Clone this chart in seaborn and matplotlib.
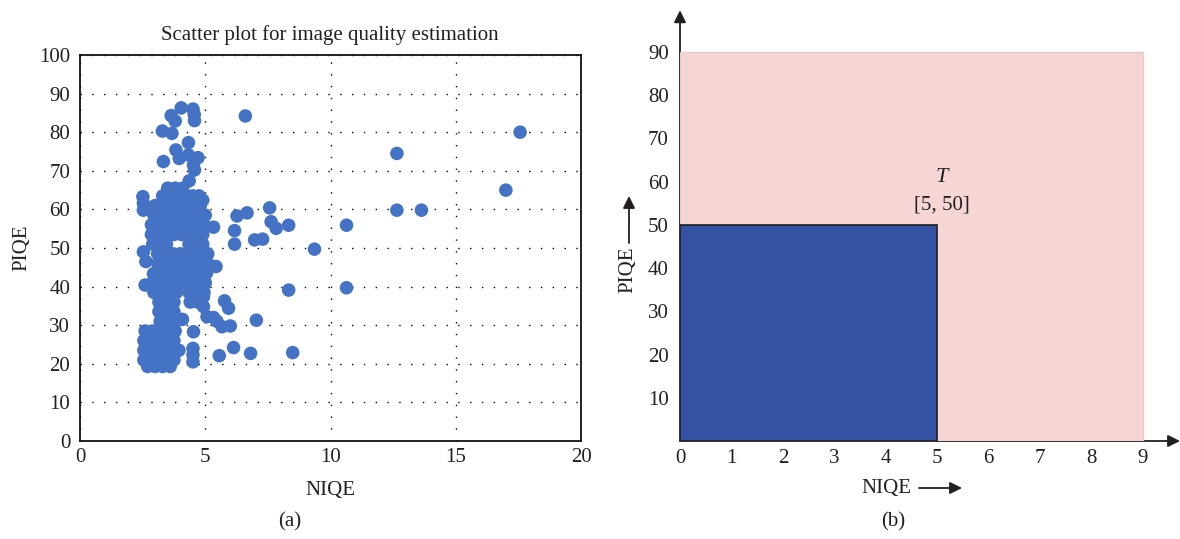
import matplotlib
matplotlib.use("Agg")
import matplotlib.pyplot as plt
import seaborn as sns
import pandas as pd

# ---------------- data: panel (a) ----------------
# isolated points (NIQE, PIQE)
outlier_niqe = [6.6, 17.57, 12.65, 17.0, 12.65, 13.63, 10.64, 8.33, 7.57, 6.67, 6.27, 7.63,
                7.83, 6.17, 6.17, 6.97, 7.29, 9.36, 5.43, 8.33, 10.64, 5.77, 5.93, 7.04,
                5.47, 5.67, 6.0, 6.13, 5.56, 6.81, 8.49, 5.33, 5.07, 5.33]
outlier_piqe = [84.2, 80.0, 74.5, 65.0, 59.8, 59.8, 55.9, 55.9, 60.4, 59.1, 58.3, 56.8,
                55.1, 54.5, 51.0, 52.1, 52.3, 49.7, 45.2, 39.1, 39.7, 36.3, 34.4, 31.3,
                31.0, 29.6, 29.8, 24.2, 22.1, 22.7, 22.9, 55.4, 32.2, 32.0]

# points on the edge of the dense cluster
edge_niqe = [4.04, 4.51, 4.56, 4.57, 3.64, 3.8, 3.29, 3.67, 4.33, 3.83, 3.33, 3.96, 4.33,
             4.71, 4.53, 4.57, 4.36, 2.51, 2.53, 2.53, 2.53, 2.63, 2.6, 2.93, 4.09, 4.53,
             4.51, 4.51, 4.51, 4.93, 4.93, 4.9]
edge_piqe = [86.3, 86.0, 84.6, 83.0, 84.3, 82.9, 80.3, 79.7, 77.3, 75.4, 72.4, 73.2, 74.1,
             73.4, 71.5, 70.2, 67.4, 63.3, 61.6, 59.8, 49.0, 46.5, 40.4, 43.3, 31.5, 28.3,
             24.0, 22.3, 20.5, 37.4, 34.8, 62.4]

# dense cluster, read row by row (PIQE of the row, NIQE of its points)
cluster_piqe_rows = [65.5, 63.5, 61, 58.5, 56, 53.5, 51, 48.5, 46, 43.5, 41, 38.5, 36,
                     33.5, 31, 28.5, 26, 23.5, 21, 19.3]
cluster_niqe_rows = [
    [3.5, 3.8, 4.1],
    [3.3, 3.6, 3.9, 4.2, 4.5, 4.75],
    [3.0, 3.3, 3.6, 3.9, 4.2, 4.5, 4.8],
    [2.95, 3.25, 3.55, 3.85, 4.15, 4.45, 4.75, 5.0],
    [2.85, 3.15, 3.45, 3.75, 4.05, 4.35, 4.65, 4.95],
    [2.85, 3.15, 3.45, 3.75, 4.05, 4.35, 4.65, 4.9],
    [2.9, 3.2, 3.45, 4.35, 4.65, 4.9],
    [3.1, 3.4, 3.7, 4.0, 4.3, 4.6, 4.9, 5.1],
    [3.1, 3.4, 3.7, 4.0, 4.3, 4.6, 4.9, 5.1],
    [3.0, 3.3, 3.6, 3.9, 4.2, 4.5, 4.8, 5.05],
    [2.9, 3.2, 3.5, 3.8, 4.1, 4.4, 4.7, 5.0],
    [2.95, 3.25, 3.55, 3.85, 4.35, 4.65, 4.95],
    [3.15, 3.45, 3.75, 4.4, 4.7],
    [3.15, 3.45, 3.75],
    [3.2, 3.5, 3.8],
    [2.6, 2.9, 3.2, 3.5, 3.8],
    [2.55, 2.85, 3.2, 3.5, 3.75],
    [2.55, 2.85, 3.15, 3.45, 3.75, 3.95],
    [2.55, 2.85, 3.15, 3.45, 3.75],
    [2.7, 3.0, 3.3, 3.6],
]

x_ticks_a = [0, 5, 10, 15, 20]
y_ticks_a = [0, 10, 20, 30, 40, 50, 60, 70, 80, 90, 100]

# ---------------- data: panel (b) ----------------
max_niqe, max_piqe = 9, 90
thr_niqe, thr_piqe = 5, 50
x_ticks_b = [0, 1, 2, 3, 4, 5, 6, 7, 8, 9]
y_ticks_b = [10, 20, 30, 40, 50, 60, 70, 80, 90]

# ---------------- build table ----------------
niqe = list(outlier_niqe) + list(edge_niqe)
piqe = list(outlier_piqe) + list(edge_piqe)
for yv, xs in zip(cluster_piqe_rows, cluster_niqe_rows):
    niqe += xs
    piqe += [yv] * len(xs)
df = pd.DataFrame({"NIQE": niqe, "PIQE": piqe})

sns.set_style("white")
plt.rcParams['font.family'] = ['Liberation Serif', 'DejaVu Serif']
TXT = '#231f20'
FS = 15

W, H = 1180, 539
fig = plt.figure(figsize=(W / 100, H / 100), dpi=100)

def fx(px):
    return px / W

def fy(py):
    return 1 - py / H

# ---------------- panel (a) ----------------
ax1 = fig.add_axes([fx(80), fy(441), (581 - 80) / W, (441 - 55) / H])
sns.scatterplot(data=df, x="NIQE", y="PIQE", ax=ax1, color='#4472C4', s=95,
                edgecolor='none', linewidth=0, zorder=3, legend=False)
ax1.set_xlim(0, 20)
ax1.set_ylim(0, 100)
ax1.set_xticks(x_ticks_a)
ax1.set_yticks(y_ticks_a)
ax1.set_axisbelow(True)
ax1.grid(True, color='black', linestyle=(0, (1, 7.5)), linewidth=1.0)
ax1.tick_params(length=0, labelsize=FS, colors=TXT, pad=7)
ax1.tick_params(axis='x', pad=5)
for sp in ax1.spines.values():
    sp.set_color('#111111')
    sp.set_linewidth(1.3)
ax1.set_xlabel("")
ax1.set_ylabel("")
fig.text(fx(330), fy(35), "Scatter plot for image quality estimation", ha='center',
         va='center', fontsize=FS, color=TXT)
fig.text(fx(330), fy(490), "NIQE", ha='center', va='center', fontsize=FS, color=TXT)
fig.text(fx(22), fy(248), "PIQE", ha='center', va='center', rotation=90, fontsize=FS, color=TXT)
fig.text(fx(290), fy(522), "(a)", ha='center', va='center', fontsize=FS, color=TXT)

# ---------------- panel (b) ----------------
px_x = 51.44
px_y = 4.322
xmax_b = (1180 - 680) / px_x
ymax_b = (441 - 9) / px_y
ax2 = fig.add_axes([fx(680), fy(441), (xmax_b * px_x) / W, (ymax_b * px_y) / H])
ax2.set_xlim(0, xmax_b)
ax2.set_ylim(0, ymax_b)
ax2.bar(0, max_piqe, width=max_niqe, align='edge', color='#F6D6D5',
        edgecolor='#E9C9C9', linewidth=1.0, zorder=2)
ax2.bar(0, thr_piqe, width=thr_niqe, align='edge', color='#3551A3',
        edgecolor='#1e1e1e', linewidth=1.2, zorder=3)
arrow_kw = dict(arrowstyle='-|>', color=TXT, lw=1.3, mutation_scale=18,
                shrinkA=0, shrinkB=0)
ax2.annotate('', xy=(xmax_b, 0), xytext=(0, 0), arrowprops=arrow_kw,
             annotation_clip=False, zorder=1)
ax2.annotate('', xy=(0, ymax_b - 0.3), xytext=(0, 0), arrowprops=arrow_kw,
             annotation_clip=False, zorder=1)
ax2.set_xticks(x_ticks_b)
ax2.set_yticks(y_ticks_b)
ax2.tick_params(length=0, labelsize=FS, colors=TXT, pad=8)
ax2.tick_params(axis='x', pad=6)
for sp in ax2.spines.values():
    sp.set_visible(False)
ax2.text(thr_niqe + 0.09, 60.9, "T", style='italic', ha='center', va='center',
         fontsize=FS + 1, color=TXT, zorder=4)
ax2.text(thr_niqe + 0.09, 54.6, "[%d, %d]" % (thr_niqe, thr_piqe), ha='center',
         va='center', fontsize=FS, color=TXT, zorder=4)

fig.text(fx(886), fy(488), "NIQE", ha='center', va='center', fontsize=FS, color=TXT)
ax2.annotate('', xy=(fx(962), fy(488)), xytext=(fx(919), fy(488)),
             xycoords='figure fraction', textcoords='figure fraction',
             arrowprops=arrow_kw, annotation_clip=False)
fig.text(fx(628), fy(270), "PIQE", ha='center', va='center', rotation=90,
         fontsize=FS, color=TXT)
ax2.annotate('', xy=(fx(629), fy(196)), xytext=(fx(629), fy(243)),
             xycoords='figure fraction', textcoords='figure fraction',
             arrowprops=arrow_kw, annotation_clip=False)
fig.text(fx(893), fy(522), "(b)", ha='center', va='center', fontsize=FS, color=TXT)

fig.savefig("out.png", dpi=100)
